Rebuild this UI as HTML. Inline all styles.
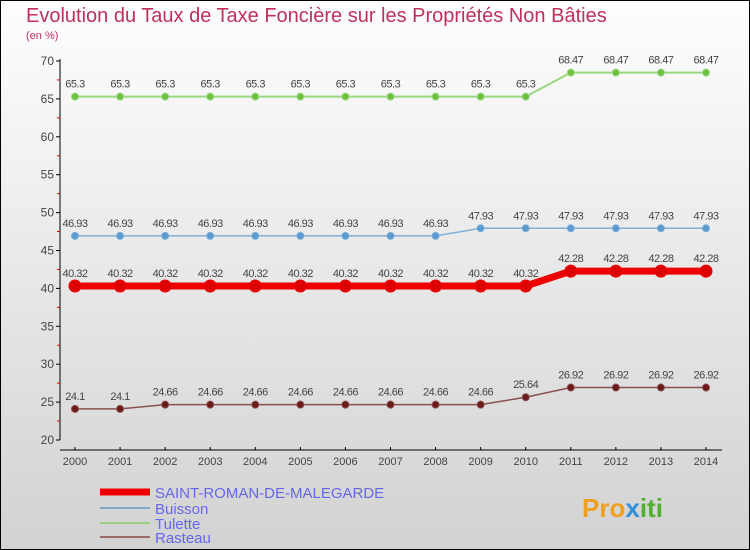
<!DOCTYPE html>
<html><head><meta charset="utf-8"><style>
body{margin:0}
#c{width:750px;height:550px;position:relative;overflow:hidden;font-family:"Liberation Sans",sans-serif}
</style></head><body>
<div id="c">
<svg id="s" width="750" height="550" xmlns="http://www.w3.org/2000/svg">
<defs><linearGradient id="bg" x1="0" y1="0" x2="0" y2="1"><stop offset="0" stop-color="#fefefe"/><stop offset="1" stop-color="#d2d2d2"/></linearGradient></defs>
<rect x="0.5" y="0.5" width="749" height="549" fill="url(#bg)" stroke="#000"/>
<text x="26" y="22" font-size="20" fill="#c0305a">Evolution du Taux de Taxe Foncière sur les Propriétés Non Bâties</text>
<text x="26" y="39" font-size="11" fill="#c0305a">(en %)</text>
<g id="g"></g>
<g>
<line x1="100" y1="492" x2="150" y2="492" stroke="#e00" stroke-width="7"/>
<text x="155" y="498" font-size="15" fill="#6666ee">SAINT-ROMAN-DE-MALEGARDE</text>
<line x1="100" y1="508" x2="150" y2="508" stroke="#80a8c8" stroke-width="2"/>
<text x="155" y="514" font-size="15" fill="#6666ee">Buisson</text>
<line x1="100" y1="523" x2="150" y2="523" stroke="#99d080" stroke-width="2"/>
<text x="155" y="529" font-size="15" fill="#6666ee">Tulette</text>
<line x1="100" y1="537" x2="150" y2="537" stroke="#9a6a6a" stroke-width="2"/>
<text x="155" y="543" font-size="15" fill="#6666ee">Rasteau</text>
</g>
<g><text x="582" y="517" font-size="26" font-weight="bold" fill="#f0a020">Pro<tspan fill="#3090e0">x</tspan><tspan fill="#50b030">iti</tspan></text></g>
</svg>
</div>
<script>
const years=["2000","2001","2002","2003","2004","2005","2006","2007","2008","2009","2010","2011","2012","2013","2014"];
const yTicks=[20,25,30,35,40,45,50,55,60,65,70];
const saintRoman=[40.32,40.32,40.32,40.32,40.32,40.32,40.32,40.32,40.32,40.32,40.32,42.28,42.28,42.28,42.28];
const buisson=[46.93,46.93,46.93,46.93,46.93,46.93,46.93,46.93,46.93,47.93,47.93,47.93,47.93,47.93,47.93];
const tulette=[65.3,65.3,65.3,65.3,65.3,65.3,65.3,65.3,65.3,65.3,65.3,68.47,68.47,68.47,68.47];
const rasteau=[24.1,24.1,24.66,24.66,24.66,24.66,24.66,24.66,24.66,24.66,25.64,26.92,26.92,26.92,26.92];
const NS="http://www.w3.org/2000/svg",g=document.getElementById('g');
const X0=75,X1=706,Y0=440,Y1=61,VMIN=20,VMAX=70;
const x=i=>X0+i*(X1-X0)/(years.length-1);
const y=v=>Y0-(v-VMIN)*(Y0-Y1)/(VMAX-VMIN);
function mk(t,a){const e=document.createElementNS(NS,t);for(const k in a)e.setAttribute(k,a[k]);g.appendChild(e);return e;}
let e=mk('line',{x1:60,y1:Y1-2,x2:60,y2:Y0,stroke:'#000'});


e=mk('line',{x1:60,y1:450,x2:X1+16,y2:450,stroke:'#000'});


yTicks.forEach((v,i)=>{
 const t=mk('line',{x1:56,x2:60,y1:y(v),y2:y(v),stroke:'#000'});
 
 
 if(i<yTicks.length-1){const m=mk('line',{x1:57,x2:60,y1:y(v+2.5),y2:y(v+2.5),stroke:'#d00'});
 
 }
 const l=mk('text',{x:54,y:y(v)+4,'font-size':12,fill:'#444','text-anchor':'end'});l.textContent=v;
 
 
});
years.forEach((yr,i)=>{
 const t=mk('line',{x1:x(i),x2:x(i),y1:447,y2:450,stroke:'#000'});
 
 
 const l=mk('text',{x:x(i),y:465,'font-size':11,fill:'#444','text-anchor':'middle'});l.textContent=yr;
 
 
});
function series(vals,name,col,w,r,dot){
 const p=mk('polyline',{points:vals.map((v,i)=>x(i)+','+y(v)).join(' '),fill:'none',stroke:col,'stroke-width':w});
 
 
 vals.forEach((v,i)=>{
  const c=mk('circle',{cx:x(i),cy:y(v),r:r,fill:dot,stroke:col,'stroke-width':1});
  
  
  const t=mk('text',{x:x(i),y:y(v)-9,'font-size':11,fill:'#444','text-anchor':'middle','letter-spacing':'-0.5'});t.textContent=v;
  
  
 });
}
series(tulette,'tulette','#99d880',2,3.5,'#70c040');
series(buisson,'buisson','#80b0d8',1.5,3.5,'#5a9ad0');
series(rasteau,'rasteau','#8a5050',1.5,3.5,'#6a1a1a');
series(saintRoman,'saint-roman','#ee0000',7,6,'#dd0000');
</script>
</body></html>
